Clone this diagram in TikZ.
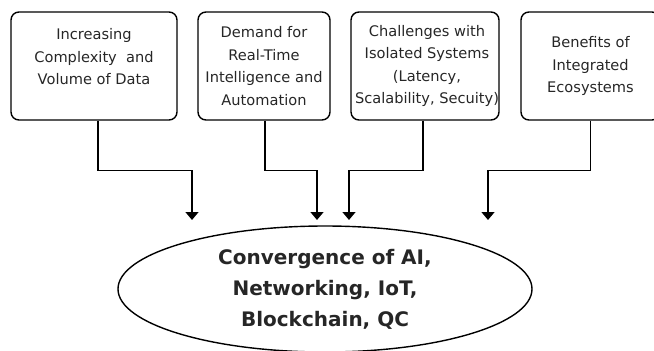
\documentclass[tikz,border=0pt]{standalone}
\usepackage{fontspec}
\setmainfont{DejaVu Sans}
\usetikzlibrary{shapes.geometric,arrows.meta}

\tikzset{
  cause/.style={draw,line width=1.4pt,rounded corners=8pt,align=center,
    inner sep=0pt,minimum height=108pt,text=black!85,
    font=\fontsize{14.6}{22.6}\selectfont},
  goal/.style={draw,ellipse,line width=1.4pt,align=center,inner sep=0pt,
    minimum width=414pt,minimum height=126pt,text=black!85,
    font=\fontsize{20}{31}\selectfont\bfseries},
  feed/.style={line width=1.4pt,-{Triangle[width=13pt,length=8pt]}}
}

\begin{document}
\begin{tikzpicture}[x=1pt,y=-1pt]
\useasboundingbox (0,0) rectangle (654,351);

% Drivers along the top
\node[cause,minimum width=166pt] (data) at (94,66)
  {Increasing\\Complexity~ and\\Volume of Data\\[-4pt]};
\node[cause,minimum width=132pt] (realtime) at (264,66)
  {Demand for\\Real-Time\\Intelligence and\\Automation};
\node[cause,minimum width=146pt] (isolated) at (425,66)
  {\hspace*{4pt}Challenges with\\\hspace*{4pt}Isolated Systems\\\hspace*{4pt}(Latency,\\\hspace*{4pt}Scalability, Secuity)};
\node[cause,minimum width=139pt] (benefits) at (590.5,66)
  {Benefits of\\Integrated\\Ecosystems};

% Target of the convergence
\node[goal] (conv) at (325,289)
  {Convergence of AI,\\Networking, IoT,\\Blockchain, QC};

% Arrow tips above the ellipse
\coordinate (t1) at (192,220);
\coordinate (t2) at (317,220);
\coordinate (t3) at (349,220);
\coordinate (t4) at (488,220);

% Connectors
\draw[feed] ([xshift=4pt]data.south) -- ++(0,50) -| (t1);
\draw[feed] ([xshift=1pt]realtime.south) -- ++(0,50) -| (t2);
\draw[feed] ([xshift=-2pt]isolated.south) -- ++(0,50) -| (t3);
\draw[feed] (benefits.south) -- ++(0,50) -| (t4);
\end{tikzpicture}
\end{document}
